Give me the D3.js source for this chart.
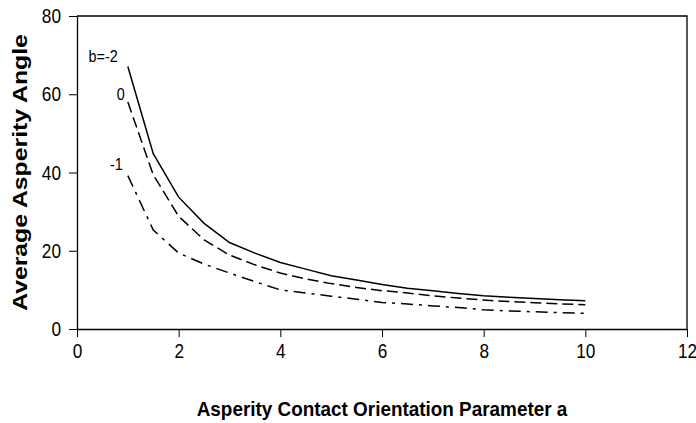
<!DOCTYPE html>
<html>
<head>
    <meta charset="utf-8">
    <style>
        body {
            margin: 0;
            background: #fff;
        }

        svg {
            font-family: 'Liberation Sans', Arial, sans-serif;
        }

        .axis .domain {
            stroke: #000;
            stroke-width: 1.3px;
        }

        .axis .tick line {
            stroke: #000;
            stroke-width: 1px;
        }

        .axis .tick text {
            font-size: 21px;
            fill: #000;
        }

        .frame {
            fill: none;
            stroke: #000;
            stroke-width: 1.3px;
        }

        .series {
            fill: none;
            stroke: #000;
            stroke-width: 1.5px;
        }

        .ann {
            font-size: 16px;
        }

        .title {
            font-weight: bold;
            font-size: 21px;
        }
    </style>
</head>

<body>
    <svg width="696" height="423"></svg>

<script src="https://d3js.org/d3.v7.min.js"></script>
<script>
    // parameter a (x values)
    const aValues = [1, 1.5, 2, 2.5, 3, 3.5, 4, 4.5, 5, 5.5, 6, 6.5, 7, 7.5, 8, 8.5, 9, 9.5, 10];

    // average asperity angle for each b
    const bMinus2 = [67.1, 44.8, 33.7, 27.0, 22.1, 19.4, 17.0, 15.3, 13.6, 12.5, 11.4, 10.4, 9.8, 9.1, 8.5, 8.1, 7.8, 7.5, 7.2];
    const bZero   = [58.0, 39.4, 28.8, 22.8, 18.9, 16.4, 14.3, 12.8, 11.6, 10.6, 9.8, 9.2, 8.5, 7.9, 7.4, 7.0, 6.7, 6.4, 6.2];
    const bMinus1 = [39.2, 25.3, 19.4, 16.6, 14.3, 12.1, 10.0, 9.2, 8.4, 7.6, 6.8, 6.4, 5.9, 5.5, 4.9, 4.6, 4.4, 4.2, 4.0];

    const seriesNames = ["b=-2", "0", "-1"];

    const xTicks = [0, 2, 4, 6, 8, 10, 12];
    const yTicks = [0, 20, 40, 60, 80];

    const xTitle = "Asperity Contact Orientation Parameter a";
    const yTitle = "Average Asperity Angle";

    const svg = d3.select("svg");
    const width = 696;
    const height = 423;
    const margin = { top: 16, right: 9, bottom: 94, left: 77 };
    const squeeze = 0.82; // labels in the source look condensed

    let x = d3.scaleLinear()
        .domain([0, 12])
        .range([margin.left, width - margin.right]);

    let y = d3.scaleLinear()
        .domain([0, 80])
        .range([height - margin.bottom, margin.top]);

    // frame (top + right border)
    svg.append("path")
        .attr("class", "frame")
        .attr("d", `M${x(0)},${y(80)}H${x(12)}V${y(0)}`);

    let xAxis = d3.axisBottom(x)
        .tickValues(xTicks)
        .tickSize(8)
        .tickSizeOuter(0)
        .tickPadding(6)
        .tickFormat(d3.format("d"));

    let yAxis = d3.axisLeft(y)
        .tickValues(yTicks)
        .tickSize(8)
        .tickSizeOuter(0)
        .tickPadding(8)
        .tickFormat(d3.format("d"));

    let xAxisG = svg.append("g")
        .attr("class", "x axis")
        .attr("transform", `translate(0,${y(0)})`)
        .call(xAxis);

    let yAxisG = svg.append("g")
        .attr("class", "y axis")
        .attr("transform", `translate(${x(0)},0)`)
        .call(yAxis);

    // condense the tick text horizontally
    xAxisG.selectAll(".tick text")
        .attr("transform", `scale(${squeeze},1)`);

    yAxisG.selectAll(".tick text")
        .attr("x", -16 / squeeze)
        .attr("transform", `scale(${squeeze},1)`);

    const series = [
        { name: seriesNames[0], values: bMinus2, dash: null, dx: -10, dy: -4 },
        { name: seriesNames[1], values: bZero, dash: "11,5", dx: -3, dy: -2 },
        { name: seriesNames[2], values: bMinus1, dash: "12,6,3,6", dx: -5, dy: -6 }
    ];

    let line = d3.line()
        .x((d, i) => x(aValues[i]))
        .y(d => y(d));

    svg.append("g")
        .selectAll("path")
        .data(series)
        .join("path")
        .attr("class", "series")
        .attr("stroke-dasharray", d => d.dash)
        .attr("d", d => line(d.values));

    // labels near the start of each curve
    svg.append("g")
        .selectAll("text")
        .data(series)
        .join("text")
        .attr("class", "ann")
        .attr("text-anchor", "end")
        .attr("transform", d => `translate(${x(aValues[0]) + d.dx},${y(d.values[0]) + d.dy}) scale(0.9,1)`)
        .text(d => d.name);

    // axis titles
    svg.append("text")
        .attr("class", "title")
        .attr("text-anchor", "middle")
        .attr("transform", `translate(${(x(0) + x(12)) / 2},416) scale(0.9,1)`)
        .text(xTitle);

    svg.append("text")
        .attr("class", "title")
        .attr("text-anchor", "middle")
        .attr("transform", `translate(27,${(y(0) + y(80)) / 2}) rotate(-90) scale(1.18,1)`)
        .text(yTitle);
</script>
</body>
</html>
